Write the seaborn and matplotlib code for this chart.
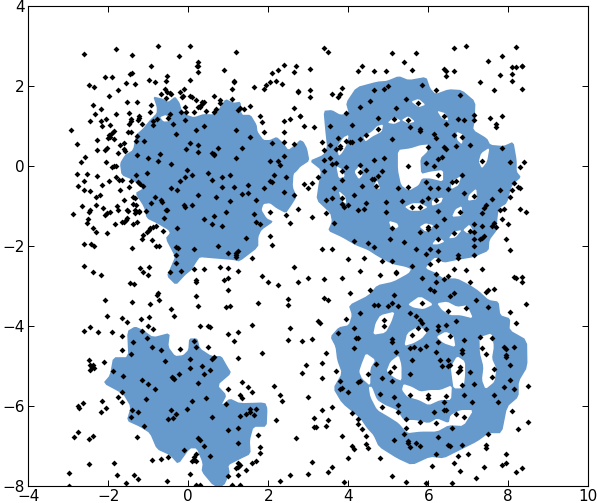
# Scattered samples over the filled class regions
import matplotlib
matplotlib.use('Agg')
import matplotlib.pyplot as plt
import pandas as pd
import seaborn as sns

points_upper_left = [
    (-2.93,0.89),(-2.78,0.54),(-2.60,2.79),(-1.80,2.92),(-1.40,2.77),(-0.75,2.99),(0.03,2.99),(-0.23,2.74),(1.20,2.84),
    (0.25,2.59),(0.21,2.49),(0.25,2.49),(0.23,2.35),(-0.93,2.49),(0.88,2.39),(-1.46,2.30),(-1.42,2.32),(-2.08,2.22),
    (-1.90,2.22),(-0.53,2.24),(-0.55,2.13),(-0.98,2.14),(-0.83,2.09),(0.03,2.14),(1.13,2.12),(1.15,2.09),(-1.55,2.07),
    (-1.33,2.04),(-2.48,2.02),(-2.35,1.97),(-1.75,1.89),(1.08,1.92),(1.65,1.97),(1.88,1.92),(1.93,2.02),(2.03,2.09),
    (2.18,2.12),(2.35,2.04),(2.08,2.32),(2.23,2.39),(2.38,2.52),(2.63,2.34),(2.68,2.49),(2.73,1.84),(2.75,1.87),
    (-0.58,1.92),(-0.68,1.79),(-0.53,1.84),(-0.45,1.82),(-0.43,1.79),(-0.20,1.84),(-0.10,1.92),(-0.15,1.72),(-0.13,1.74),
    (-1.98,1.74),(-0.55,1.69),(0.05,1.74),(0.08,1.72),(0.18,1.64),(0.35,1.59),(0.40,1.59),(0.33,1.54),(0.23,1.47),
    (0.28,1.47),(0.30,1.49),(0.65,1.74),(0.78,1.64),(0.78,1.57),(1.10,1.67),(-1.53,1.59),(-1.28,1.59),(-2.38,1.52),
    (-2.18,1.42),(-0.93,1.52),(-0.08,1.47),(0.43,1.37),(0.13,1.34),(-0.05,1.34),(-0.18,1.34),(0.70,1.42),(0.63,1.34),
    (1.23,1.39),(1.30,1.44),(1.40,1.42),(1.53,1.49),(-2.33,1.29),(-1.80,1.29),(-1.48,1.32),(-0.97,1.34),(-1.23,1.24),
    (-1.23,1.19),(-1.25,1.14),(-2.05,1.17),(-2.18,1.12),(-2.45,1.12),(-2.15,0.99),(-1.43,1.17),(-1.43,1.12),(-1.48,1.04),
    (-1.15,1.04),(-1.95,1.02),(-0.78,1.17),(-0.88,1.12),(-0.88,1.02),(-0.47,1.29),(-0.50,1.19),(-0.38,1.04),(-0.08,1.14),
    (0.40,0.99),(1.78,1.24),(1.85,1.09),(1.88,0.84),(2.55,1.17),(2.40,1.12),(2.63,1.44),(2.78,1.24),(2.38,0.84),
    (2.40,0.59),(2.65,0.54),(0.20,0.89),(1.18,0.89),(-0.30,0.79),(1.53,0.72),(2.08,0.57),(-1.85,0.87),(-1.90,0.82),
    (-1.98,0.77),(-1.95,0.72),(-2.00,0.69),(-1.85,0.67),(-1.50,0.84),(-1.43,0.84),(-1.28,0.74),(-1.30,0.62),(-1.10,0.62),
    (-2.28,0.64),(-2.28,0.39),(-1.60,0.57),(-1.70,0.52),(-1.60,0.42),(-1.58,0.37),(-1.75,0.32),(-2.03,0.44),(-2.08,0.39),
    (0.05,0.57),(0.23,0.52),(-0.05,0.42),(0.23,0.34),(0.73,0.44),(0.60,0.32),(0.63,0.29),(0.65,0.27),(1.33,0.44),
    (1.20,0.19),(-1.28,0.27),(-1.00,0.19),(-0.70,0.29),(-0.75,0.12),(-2.58,0.22),(-2.68,0.09),(-2.05,0.09),(-1.90,-0.03),
    (-1.85,-0.01),(-1.80,-0.01),(-0.43,0.04),(2.03,0.12),(2.25,0.12),(2.28,0.02),(2.40,0.24),(-2.78,-0.21),(-2.53,-0.21),
    (-2.28,-0.26),(-1.80,-0.28),(-1.73,-0.36),(-1.65,-0.36),(-2.75,-0.51),(-2.60,-0.38),(-1.98,-0.38),(-2.15,-0.48),
    (-2.60,-0.61),(-2.45,-0.63),(-1.70,-0.61),(-1.30,-0.23),(-1.03,-0.18),(-1.43,-0.38),(-1.25,-0.41),(-1.20,-0.46),
    (-1.13,-0.51),(-1.48,-0.53),(-0.03,-0.11),(0.08,-0.23),(-0.08,-0.28),(-0.20,-0.38),(0.48,-0.18),(0.60,-0.36),
    (0.83,-0.28),(1.05,-0.23),(2.03,-0.38),(2.08,-0.41),(2.13,-0.23),(2.45,-0.28),(-0.43,-0.56),(-0.28,-0.61),(0.85,-0.53),
    (1.13,-0.53),(1.50,-0.48),(1.88,-0.56),(-2.20,-0.73),(-2.30,-0.78),(-1.38,-0.78),(-1.33,-0.81),(-0.83,-0.78),
    (0.23,-0.73),(0.70,-0.78),(1.33,-0.71),(1.48,-0.68),(2.38,-0.66),(2.65,-0.73),(-1.60,-0.86),(-2.30,-0.98),(-2.65,-1.01),
    (-1.38,-0.96),(-1.30,-0.98),(-0.93,-0.93),(-0.68,-0.86),(-0.65,-0.91),(1.05,-0.88),(1.68,-0.86),(-0.10,-0.98),
    (-0.08,-1.03),(0.08,-0.98),(-2.13,-1.06),(-1.78,-1.01),(-1.76,-1.11),(-1.53,-1.11),(-1.50,-1.13),(-1.33,-1.11),
    (-1.23,-1.13),(-1.05,-1.13),(-0.55,-1.11),(-0.53,-1.11),(-2.45,-1.11),(-2.48,-1.16),(-2.88,-1.21),(-1.95,-1.16),
    (-2.03,-1.18),(-2.08,-1.23),(-1.33,-1.18),(-1.23,-1.16),(0.93,-1.16),(0.63,-1.26),(0.40,-1.33),(-0.60,-1.31),
    (1.63,-1.21),(2.03,-1.16),(2.45,-1.23),(2.73,-1.08),(-2.50,-1.33),(-2.53,-1.43),(-1.83,-1.46),(-1.53,-1.31),
    (-1.55,-1.36),(-1.60,-1.41),(-1.65,-1.41),(-1.28,-1.41),(-1.38,-1.46),(0.60,-1.46),(0.83,-1.51),(1.68,-1.41),
    (1.78,-1.46),(2.53,-1.43),(-2.38,-1.56),(-2.30,-1.66),(-2.03,-1.68),(-0.80,-1.51),(-0.88,-1.53),(-0.95,-1.56),
    (-0.98,-1.61),(-1.03,-1.66),(-0.63,-1.63),(-0.28,-1.56),(-1.13,-1.73),(-1.15,-1.83),(-0.90,-1.86),(1.43,-1.81),
    (2.03,-1.76),(-2.60,-1.96),(-2.43,-1.96),(-2.35,-2.01),(-1.40,-2.06),(-0.80,-2.01),(-0.73,-2.01),(-0.30,-2.03),
    (-0.25,-2.06),(0.73,-2.01),(0.13,-2.08),(2.10,-1.98),
]

points_upper_right = [
    (3.38,2.94),(3.48,2.84),(5.10,2.82),(5.68,2.82),(5.38,2.59),(6.63,2.94),(6.93,2.99),(8.20,2.97),(7.83,2.74),(7.50,2.62),
    (8.10,2.47),(8.20,2.47),(8.33,2.49),(8.35,2.49),(8.08,2.29),(7.80,2.27),(8.10,2.12),(8.33,1.92),(7.65,1.89),(7.28,2.09),
    (3.03,2.42),(4.35,2.49),(4.25,2.37),(4.65,2.37),(4.93,2.37),(5.60,2.39),(6.40,2.42),(6.43,2.37),(6.45,2.24),(6.63,2.37),
    (5.85,2.02),(4.98,1.99),(4.90,1.92),(4.65,1.89),(6.18,1.89),(6.80,1.77),(3.83,1.94),(3.78,1.79),(3.73,1.72),(3.60,1.79),
    (3.05,1.89),(3.03,1.72),(5.43,1.67),(4.53,1.62),(4.30,1.47),(5.20,1.44),(5.75,1.57),(3.95,1.32),(2.80,1.24),(2.88,0.99),
    (3.13,0.97),(3.53,0.99),(4.08,1.02),(4.75,1.19),(5.15,1.17),(5.50,1.14),(6.38,1.24),(6.75,1.17),(6.90,1.14),(7.13,1.27),
    (7.13,1.14),(7.53,1.19),(7.85,1.24),(6.43,1.04),(5.55,0.97),(5.78,0.92),(5.78,0.87),(7.68,1.04),(7.68,0.97),(4.75,0.92),
    (4.45,0.77),(4.30,0.67),(5.10,0.67),(6.15,0.79),(6.18,0.69),(6.65,0.77),(6.83,0.72),(3.75,0.69),(3.35,0.59),(3.93,0.62),
    (4.03,0.59),(4.08,0.59),(3.55,0.52),(3.80,0.49),(3.78,0.44),(3.68,0.42),(3.40,0.39),(7.03,0.52),(6.68,0.49),(5.98,0.47),
    (6.40,0.47),(6.43,0.42),(7.83,0.44),(3.55,0.19),(3.40,0.14),(4.90,0.19),(4.65,0.14),(6.35,0.22),(6.23,0.17),(7.35,0.12),
    (8.05,0.09),(8.38,0.09),(8.30,-0.03),(3.60,0.04),(3.68,0.07),(3.95,-0.03),(4.28,0.02),(4.43,-0.11),(3.38,-0.13),(3.83,-0.13),
    (4.30,-0.16),(4.83,-0.13),(5.50,-0.01),(5.95,0.07),(6.13,-0.01),(6.23,-0.23),(3.23,-0.28),(4.73,-0.26),(3.83,-0.36),
    (4.58,-0.33),(4.65,-0.33),(6.85,-0.23),(2.90,-0.46),(3.08,-0.43),(3.00,-0.56),(4.33,-0.51),(3.63,-0.56),(4.68,-0.51),
    (5.25,-0.56),(5.50,-0.53),(5.93,-0.41),(6.05,-0.56),(6.23,-0.56),(6.60,-0.41),(6.68,-0.38),(6.50,-0.58),(8.15,-0.43),
    (8.23,-0.53),(8.30,-0.56),(7.78,-0.61),(8.08,-0.61),(4.15,-0.73),(6.88,-0.68),(7.13,-0.76),(8.03,-0.78),(3.45,-0.86),
    (3.58,-0.81),(3.83,-0.81),(6.00,-0.81),(6.20,-0.86),(5.85,-0.88),(5.35,-0.88),(7.60,-0.83),(3.85,-0.96),(3.88,-1.03),
    (4.00,-0.98),(4.43,-0.93),(4.95,-0.91),(5.58,-1.03),(5.80,-1.03),(7.43,-0.98),(7.38,-1.06),(4.23,-1.11),(4.38,-1.08),
    (4.95,-1.16),(6.25,-1.13),(6.78,-1.16),(7.35,-1.18),(7.80,-1.11),(7.88,-1.08),(8.28,-1.08),(8.43,-1.16),(3.45,-1.18),
    (3.10,-1.28),(6.40,-1.33),(7.85,-1.33),(7.98,-1.46),(3.63,-1.43),(5.10,-1.56),(5.98,-1.53),(5.98,-1.58),(6.20,-1.51),
    (5.78,-1.66),(7.13,-1.46),(7.33,-1.51),(7.60,-1.51),(7.65,-1.43),(7.68,-1.53),(6.65,-1.68),(7.05,-1.63),(7.13,-1.66),
    (5.03,-1.83),(4.13,-1.88),(4.50,-1.93),(5.40,-1.91),(6.25,-1.83),(7.13,-1.83),(7.38,-1.76),(7.35,-1.81),(7.30,-1.83),
    (7.93,-1.83),(4.65,-2.03),(5.68,-2.08),(6.05,-2.08),(7.13,-2.01),(3.33,-2.08),(3.58,-2.08),(8.03,-2.11),
]

points_lower_left = [
    (-0.30,-2.23),(-0.30,-2.43),(0.98,-2.18),(1.23,-2.13),(1.20,-2.18),(1.18,-2.23),(1.18,-2.28),(1.58,-2.31),(-2.60,-2.51),
    (-2.38,-2.66),(-2.18,-2.73),(-1.20,-2.56),(-0.98,-2.53),(-1.13,-2.66),(-1.00,-2.73),(-0.45,-2.66),(-0.18,-2.63),(0.15,-2.58),
    (0.38,-2.58),(0.78,-2.53),(0.98,-2.56),(1.23,-2.63),(2.65,-2.53),(2.73,-2.91),(1.85,-2.76),(1.98,-2.91),(2.23,-2.98),
    (0.18,-2.86),(0.20,-2.91),(0.90,-2.86),(1.00,-2.81),(-1.45,-2.93),(-1.35,-2.96),(0.98,-3.11),(-0.75,-3.18),(-0.78,-3.23),
    (0.20,-3.26),(-2.08,-3.36),(-1.40,-3.41),(-0.95,-3.46),(-0.73,-3.36),(2.50,-3.33),(2.50,-3.48),(1.75,-3.43),(0.25,-3.51),
    (0.95,-3.53),(1.03,-3.51),(-0.43,-3.58),(-0.35,-3.76),(-2.03,-3.76),(-1.65,-3.81),(-1.53,-3.91),(-1.18,-3.83),(-0.98,-3.78),
    (-1.00,-4.01),(-0.88,-4.08),(-1.15,-4.13),(-2.45,-4.03),(-2.60,-4.13),(-2.25,-4.16),(-1.90,-4.16),(0.28,-4.01),(0.48,-4.01),
    (0.53,-4.03),(1.58,-3.98),(1.25,-4.16),(1.00,-4.21),(2.53,-4.06),(-1.65,-4.26),(-1.03,-4.31),(-1.38,-4.41),(0.13,-4.38),
    (1.15,-4.38),(2.48,-4.36),(-0.90,-4.53),(-0.68,-4.61),(-1.65,-4.61),(-0.20,-4.58),(0.20,-4.53),(0.48,-4.53),(-1.43,-4.71),
    (1.83,-4.68),(0.63,-4.78),(0.60,-4.83),(0.05,-4.83),(1.25,-4.81),(-0.58,-4.88),(-2.48,-4.86),(-2.10,-4.91),(-2.45,-4.98),
    (-2.38,-4.98),(-2.40,-5.03),(-2.35,-5.06),(-2.45,-5.11),(0.35,-5.01),(0.03,-5.06),(0.55,-5.11),(-1.88,-5.13),(0.40,-5.21),
    (-0.23,-5.21),(-1.63,-5.26),(-0.40,-5.28),(-0.38,-5.31),(-0.35,-5.33),(-1.15,-5.36),(-1.00,-5.46),(-0.83,-5.58),(0.23,-5.43),
    (1.35,-5.41),(1.48,-5.53),(1.58,-5.66),(2.13,-5.51),(0.98,-5.58),(-1.65,-5.66),(1.30,-5.73),(1.33,-5.81),(2.30,-5.73),
    (2.33,-5.88),(-1.75,-5.78),(-1.05,-5.83),(0.43,-5.81),(0.08,-5.88),(-2.15,-5.88),(-1.65,-5.91),(-2.63,-5.93),(-2.75,-6.01),
    (-2.73,-6.06),(-2.05,-6.06),(0.93,-5.96),(-1.40,-6.11),(-1.25,-6.16),(-2.18,-6.16),(-0.43,-6.11),(-0.03,-6.08),(-0.30,-6.21),
    (1.70,-6.08),(1.53,-6.08),(1.55,-6.16),(1.45,-6.21),(1.65,-6.23),(1.28,-6.26),(0.60,-6.28),(-1.43,-6.28),(-0.50,-6.33),
    (-0.38,-6.31),(2.20,-6.36),(-1.10,-6.51),(0.98,-6.61),(1.25,-6.56),(-2.75,-6.66),(1.73,-6.73),(-2.85,-6.78),(-2.48,-6.83),
    (-2.38,-6.76),(-1.28,-6.78),(0.25,-6.81),(0.28,-6.86),(2.68,-6.81),(1.23,-6.93),(0.40,-7.01),(1.78,-7.03),(-0.10,-7.11),
    (1.80,-7.18),(0.20,-7.21),(0.55,-7.26),(-0.50,-7.28),(-0.68,-7.33),(-0.90,-7.36),(0.15,-7.28),(0.13,-7.36),(0.08,-7.38),
    (0.18,-7.38),(1.68,-7.38),(1.60,-7.43),(1.25,-7.43),(-1.85,-7.43),(-2.48,-7.46),(1.28,-7.48),(1.25,-7.53),(1.18,-7.56),
    (1.45,-7.61),(-2.98,-7.68),(0.03,-7.71),(-1.78,-7.73),(-1.35,-7.73),(1.00,-7.76),(1.25,-7.73),(2.53,-7.73),(-1.25,-7.83),
    (-0.53,-7.88),(2.30,-7.88),(-1.55,-7.93),(-2.98,-8.01),(0.20,-7.98),(0.30,-7.98),(1.10,-7.98),(1.28,-7.98),
]

points_lower_right = [
    (4.00,-2.33),(4.38,-2.31),(4.85,-2.38),(5.10,-2.38),(5.58,-2.51),(5.93,-2.21),(6.23,-2.13),(6.23,-2.36),(6.73,-2.23),(6.73,-2.31),
    (7.15,-2.23),(6.05,-2.46),(4.30,-2.63),(5.18,-2.66),(5.20,-2.68),(4.78,-2.73),(3.00,-2.81),(3.40,-2.83),(3.85,-2.81),(6.65,-2.58),
    (6.93,-2.61),(7.35,-2.58),(6.18,-2.71),(6.48,-2.76),(5.83,-2.81),(6.40,-2.83),(8.13,-2.78),(8.18,-2.81),(8.33,-2.78),(8.33,-2.91),
    (6.18,-2.91),(7.05,-2.91),(6.05,-3.08),(6.15,-3.13),(4.53,-3.11),(4.03,-3.18),(7.65,-3.08),(7.50,-3.11),(7.45,-3.16),(5.13,-3.23),
    (6.65,-3.18),(6.55,-3.26),(3.38,-3.31),(3.50,-3.36),(7.18,-3.36),(5.83,-3.43),(5.08,-3.43),(4.65,-3.48),(4.73,-3.48),(4.98,-3.51),
    (5.23,-3.51),(8.43,-3.46),(7.48,-3.53),(6.95,-3.56),(6.50,-3.63),(4.28,-3.68),(5.55,-3.68),(8.03,-3.66),(5.70,-3.76),(5.78,-3.86),
    (5.85,-3.93),(3.95,-3.83),(3.25,-3.88),(3.28,-3.93),(4.88,-3.86),(4.90,-4.01),(6.68,-3.88),(8.18,-3.93),(5.73,-4.06),(5.93,-4.08),
    (6.25,-4.01),(6.43,-3.98),(6.23,-4.11),(4.13,-4.06),(3.73,-4.18),(5.58,-4.23),(6.53,-4.26),(7.28,-4.28),(7.60,-4.31),(4.20,-4.31),
    (4.23,-4.31),(2.83,-4.38),(3.10,-4.33),(5.10,-4.33),(5.10,-4.41),(6.25,-4.41),(6.88,-4.36),(4.15,-4.56),(5.53,-4.56),(5.65,-4.53),
    (5.78,-4.58),(5.93,-4.51),(7.33,-4.56),(6.83,-4.61),(7.88,-4.53),(7.95,-4.58),(8.13,-4.53),(5.18,-4.66),(6.18,-4.66),(6.85,-4.68),
    (7.45,-4.71),(7.95,-4.73),(7.93,-4.78),(3.43,-4.68),(5.60,-4.86),(6.30,-4.86),(6.50,-4.86),(3.33,-4.93),(2.95,-4.98),(4.68,-4.96),
    (8.05,-4.98),(6.33,-5.01),(6.48,-5.01),(6.53,-4.98),(6.80,-5.03),(5.13,-5.03),(7.63,-5.08),(6.78,-5.11),(6.73,-5.16),(3.70,-5.13),
    (2.83,-5.18),(5.05,-5.16),(7.05,-5.16),(5.53,-5.21),(4.48,-5.21),(3.33,-5.31),(7.58,-5.28),(4.83,-5.31),(3.78,-5.38),(4.25,-5.41),
    (4.30,-5.38),(5.08,-5.38),(8.05,-5.36),(7.13,-5.46),(6.85,-5.48),(8.50,-5.51),(7.88,-5.53),(8.13,-5.58),(3.85,-5.56),(3.80,-5.58),
    (3.98,-5.66),(4.78,-5.71),(5.55,-5.73),(6.00,-5.73),(6.00,-5.81),(6.43,-5.76),(5.13,-5.78),(6.88,-5.73),(7.65,-5.73),(3.00,-5.78),
    (6.38,-5.91),(7.10,-5.91),(7.75,-5.91),(5.23,-5.98),(4.85,-6.03),(3.58,-6.03),(3.33,-6.11),(4.08,-6.18),(8.10,-6.13),(6.13,-6.16),
    (6.40,-6.11),(6.43,-6.11),(5.25,-6.16),(6.70,-6.21),(6.88,-6.28),(3.15,-6.31),(4.23,-6.33),(3.50,-6.36),(4.23,-6.46),(5.43,-6.33),
    (5.78,-6.41),(6.20,-6.43),(8.48,-6.41),(3.45,-6.51),(3.15,-6.53),(3.18,-6.53),(4.35,-6.58),(5.43,-6.56),(6.58,-6.56),(8.25,-6.58),
    (5.38,-6.71),(7.50,-6.71),(4.45,-6.76),(3.85,-6.76),(6.23,-6.78),(5.13,-6.86),(5.48,-6.93),(5.70,-6.93),(5.50,-6.88),(4.45,-6.96),
    (6.48,-6.98),(6.55,-7.01),(6.85,-6.98),(7.43,-6.98),(4.08,-7.01),(4.13,-7.08),(4.48,-7.06),(5.55,-7.03),(5.80,-7.01),(7.43,-7.06),
    (6.18,-7.21),(7.00,-7.21),(6.73,-7.26),(7.93,-7.21),(3.98,-7.31),(4.80,-7.31),(3.10,-7.41),(6.65,-7.43),(7.95,-7.43),(7.83,-7.48),
    (6.08,-7.51),(7.38,-7.53),(8.35,-7.56),(3.58,-7.53),(3.48,-7.66),(8.18,-7.66),(6.78,-7.63),(2.98,-7.71),(5.08,-7.76),(7.20,-7.81),
    (3.90,-7.91),(5.45,-7.91),(5.93,-7.93),(6.60,-7.93),
]

# filled regions, outline then the gaps inside them
region_upper_left = [
    (-0.88,1.74),(-0.63,1.68),(-0.50,1.60),(-0.33,1.74),(-0.21,1.57),(-0.17,1.40),(-0.04,1.28),(0.14,1.22),(0.38,1.30),(0.63,1.29),
    (0.75,1.40),(0.93,1.68),(1.13,1.58),(1.31,1.61),(1.33,1.28),(1.56,1.28),(1.71,1.03),(1.73,0.86),(1.88,0.65),(2.04,0.65),
    (2.21,0.73),(2.38,0.57),(2.50,0.40),(2.67,0.53),(2.79,0.65),(2.88,0.61),(2.97,0.44),(3.03,0.13),(2.80,-0.02),(2.72,-0.12),
    (2.63,-0.20),(2.61,-0.52),(2.71,-0.77),(2.58,-0.98),(2.44,-1.18),(2.21,-1.06),(2.04,-0.93),(1.88,-0.95),(1.83,-1.10),(1.96,-1.31),
    (2.13,-1.39),(1.83,-1.60),(1.75,-1.77),(1.75,-2.03),(1.28,-2.39),(1.13,-2.35),(0.63,-2.31),(0.29,-2.28),(0.21,-2.39),(0.08,-2.60),
    (-0.08,-2.73),(-0.31,-2.98),(-0.54,-2.75),(-0.42,-2.48),(-0.33,-2.27),(-0.57,-1.81),(-0.46,-1.68),(-0.50,-1.60),(-0.79,-1.43),
    (-1.04,-1.31),(-1.11,-1.02),(-1.33,-0.68),(-1.13,-0.56),(-1.38,-0.35),(-1.67,-0.23),(-1.71,0.07),(-1.58,0.28),(-1.38,0.40),
    (-1.31,0.78),(-1.13,0.94),(-0.96,1.15),(-0.79,1.32),(-0.79,1.48),
]
region_lower_left = [
    (-1.53,-4.13),(-1.33,-4.01),(-1.13,-4.10),(-0.88,-4.28),(-0.46,-4.17),(-0.50,-4.52),(-0.33,-4.75),(-0.13,-4.73),(0.00,-4.60),
    (0.02,-4.31),(0.23,-4.31),(0.29,-4.56),(0.58,-4.75),(0.83,-4.75),(0.96,-4.98),(1.08,-5.18),(0.73,-5.48),(0.96,-5.73),(0.83,-5.98),
    (1.04,-5.81),(1.29,-5.93),(1.92,-5.91),(1.98,-6.06),(1.96,-6.52),(1.63,-6.52),(1.54,-6.85),(1.56,-7.20),(1.25,-7.35),(1.00,-7.48),
    (1.04,-7.68),(0.89,-8.00),(0.63,-8.00),(0.33,-7.64),(0.36,-7.43),(0.21,-7.06),(0.04,-7.06),(-0.25,-7.46),(-0.46,-7.23),(-0.79,-7.08),
    (-0.96,-6.68),(-1.21,-6.52),(-1.54,-6.37),(-1.44,-6.02),(-1.63,-5.70),(-2.13,-5.43),(-1.96,-5.23),(-1.88,-4.78),(-1.50,-4.78),
]
region_right = [
    (3.03,0.13),(3.38,0.28),(3.47,0.48),(3.43,0.82),(3.38,1.38),(3.59,1.40),(3.80,1.28),(4.01,1.32),(3.94,1.58),(4.20,1.97),(4.72,2.11),
    (4.97,2.13),(5.26,2.25),(5.51,2.15),(5.95,2.23),(6.05,1.94),(6.18,1.80),(6.51,1.92),(6.84,1.90),(7.18,1.61),(7.16,1.15),(7.12,0.90),
    (7.47,0.69),(7.55,0.53),(7.88,0.50),(8.13,0.61),(8.21,0.15),(8.21,-0.14),(8.32,-0.28),(8.09,-0.48),(7.97,-0.93),(7.76,-1.06),
    (7.72,-1.39),(7.72,-1.60),(7.53,-1.85),(7.51,-2.12),(7.13,-2.28),(6.72,-2.35),(6.38,-2.42),(6.18,-2.28),(6.05,-2.39),(5.93,-2.56),
    (6.18,-2.67),(6.38,-2.81),(6.72,-2.81),(7.05,-2.98),(7.26,-3.12),(7.51,-3.35),(7.76,-3.39),(7.80,-3.73),(8.05,-3.81),(8.03,-4.10),
    (8.47,-4.35),(8.48,-5.02),(8.26,-5.39),(8.26,-5.77),(7.97,-6.02),(7.84,-6.68),(7.51,-6.68),(7.22,-6.89),(6.80,-7.10),(6.38,-7.31),
    (6.05,-7.27),(5.59,-7.48),(5.22,-7.31),(4.76,-7.02),(4.63,-6.73),(4.47,-6.56),(4.30,-6.31),(3.84,-5.93),(3.62,-5.56),(3.84,-5.18),
    (3.72,-4.85),(3.68,-4.52),(3.55,-4.27),(3.76,-4.03),(4.01,-3.98),(4.09,-3.73),(4.01,-3.48),(4.51,-3.23),(4.72,-2.98),(5.13,-2.89),
    (5.51,-2.68),(5.57,-2.58),(5.43,-2.52),(5.09,-2.45),(4.72,-2.25),(4.49,-2.10),(4.18,-1.98),(3.84,-1.78),(3.49,-1.62),(3.59,-1.39),
    (3.55,-1.18),(3.20,-0.85),(3.26,-0.43),(3.32,-0.10),
]
gaps = [
    [(-0.71,1.22),(-0.55,1.28),(-0.47,1.12),(-0.62,1.11)],
    [(5.57,1.61),(5.76,1.68),(5.93,1.53),(5.76,1.47)],
    [(4.98,1.08),(5.15,1.23),(5.32,1.13),(5.15,1.05)],
    [(5.33,1.15),(5.50,1.25),(5.67,1.11),(5.50,1.06)],
    [(6.22,1.38),(6.43,1.32),(6.51,1.13),(6.34,1.19)],
    [(4.37,0.73),(4.59,0.86),(4.72,1.00),(4.87,1.04),(4.84,0.86),(4.59,0.73),(4.43,0.61)],
    [(4.01,0.78),(3.88,0.72),(3.72,0.48),(3.76,0.25),(3.84,0.32),(3.97,0.55)],
    [(6.70,0.86),(6.88,0.78),(6.84,0.54),(6.72,0.65)],
    [(5.24,0.40),(5.55,0.44),(5.80,0.52),(6.01,0.54),(5.98,0.36),(5.80,0.19),(5.82,-0.20),(6.05,-0.14),(6.37,-0.10),
     (6.37,-0.39),(6.05,-0.31),(5.84,-0.31),(5.76,-0.48),(5.51,-0.62),(5.32,-0.48),(5.24,-0.10)],
    [(7.53,0.46),(7.32,0.32),(7.26,0.11),(7.34,-0.06),(7.47,0.11)],
    [(3.70,0.00),(3.88,-0.10),(3.91,-0.27),(3.76,-0.31)],
    [(4.30,0.03),(4.15,-0.14),(4.26,-0.33),(4.36,-0.23)],
    [(4.72,-0.35),(4.62,-0.53),(4.80,-0.58)],
    [(6.82,-0.25),(6.57,-0.39),(6.57,-0.58),(6.76,-0.48)],
    [(7.20,-0.56),(7.01,-0.73),(6.99,-0.87),(7.22,-0.83)],
    [(3.76,-0.62),(3.93,-0.77),(3.95,-0.95),(3.82,-0.85)],
    [(5.41,-1.02),(5.60,-0.93),(5.80,-0.93),(5.99,-1.03),(5.80,-1.12),(5.55,-1.12)],
    [(6.09,-0.85),(6.37,-0.78),(6.32,-0.92),(6.09,-1.00)],
    [(6.84,-1.00),(6.68,-1.08),(6.59,-1.27),(6.84,-1.25)],
    [(5.01,-1.37),(5.22,-1.43),(5.26,-1.52),(5.09,-1.62)],
    [(5.78,-1.52),(5.93,-1.43),(6.13,-1.48),(6.05,-1.60),(5.93,-1.64)],
    [(6.84,-1.60),(6.63,-1.64),(6.51,-1.81),(6.68,-1.79)],
    [(7.03,-1.46),(6.87,-1.60),(6.97,-1.68),(7.13,-1.64)],
    [(6.09,-1.96),(6.25,-1.77),(6.41,-1.89),(6.25,-1.96)],
    [(5.49,-3.46),(5.79,-3.25),(6.13,-3.46),(5.88,-3.58),(5.63,-3.54)],
    [(6.22,-3.43),(6.47,-3.39),(6.72,-3.52),(6.97,-3.48),(7.12,-3.81),(6.80,-3.73),(6.55,-3.73),(6.34,-3.60)],
    [(5.16,-3.64),(4.80,-3.73),(4.68,-3.93),(4.62,-4.22),(4.93,-4.17),(5.08,-3.89)],
    [(5.98,-4.14),(5.76,-4.00),(5.47,-4.18),(5.40,-4.50),(5.63,-4.43),(5.84,-4.31)],
    [(6.20,-4.27),(6.43,-4.14),(6.63,-4.23),(6.68,-4.53),(6.38,-4.43)],
    [(7.28,-4.28),(7.59,-4.18),(7.64,-4.52),(7.59,-4.81),(7.70,-5.06),(7.66,-5.39),(7.43,-5.58),(7.34,-5.35),(7.38,-5.02),(7.29,-4.68)],
    [(6.72,-4.75),(6.92,-4.89),(6.92,-5.23),(6.88,-5.56),(6.63,-5.56),(6.59,-5.27),(6.56,-5.02)],
    [(5.26,-4.73),(5.05,-4.89),(4.95,-5.14),(5.18,-5.31),(5.33,-5.37),(5.33,-4.98)],
    [(4.44,-4.68),(4.68,-4.85),(4.55,-5.06),(4.55,-5.50),(4.34,-5.31),(4.27,-5.14),(4.34,-4.93)],
    [(5.38,-5.45),(5.59,-5.52),(5.80,-5.64),(6.05,-5.60),(6.30,-5.60),(6.59,-5.48),(6.57,-5.85),(6.30,-5.85),(6.01,-5.98),
     (5.76,-5.85),(5.47,-5.77),(5.34,-5.60)],
    [(4.51,-5.52),(4.55,-5.77),(4.72,-6.10),(5.01,-6.27),(5.26,-6.43),(5.47,-6.68),(5.80,-6.64),(6.22,-6.64),(6.51,-6.48),(6.88,-6.50),
     (7.13,-6.10),(6.80,-6.10),(6.55,-6.23),(6.51,-6.43),(6.22,-6.31),(6.01,-6.43),(5.68,-6.35),(5.38,-6.35),(5.22,-6.10),(4.93,-5.98),
     (4.72,-5.85),(4.59,-5.52)],
]

x_ticks = [-4, -2, 0, 2, 4, 6, 8, 10]
y_ticks = [-8, -6, -4, -2, 0, 2, 4]


def rounded(outline, cut=0.15):
    # one pass of corner cutting, the regions have soft edges
    out = []
    for (x0, y0), (x1, y1) in zip(outline, outline[1:] + outline[:1]):
        out.append(((1 - cut) * x0 + cut * x1, (1 - cut) * y0 + cut * y1))
        out.append((cut * x0 + (1 - cut) * x1, cut * y0 + (1 - cut) * y1))
    return out


sns.set_style('white', {'xtick.direction': 'in', 'ytick.direction': 'in',
                        'xtick.top': True, 'ytick.right': True,
                        'xtick.bottom': True, 'ytick.left': True,
                        'axes.edgecolor': 'black'})
plt.rcParams['font.family'] = ['DejaVu Sans']

df = pd.DataFrame(points_upper_left + points_upper_right + points_lower_left + points_lower_right,
                  columns=['x', 'y'])

fig = plt.figure(figsize=(5.97, 5.03), dpi=100)
ax = fig.add_axes([28.3 / 597, 1 - 486 / 503, 560 / 597, 480 / 503])

for region in [region_upper_left, region_lower_left, region_right]:
    ax.fill(*zip(*rounded(region)), color='#6699CC', lw=0, zorder=1)
for gap in gaps:
    ax.fill(*zip(*rounded(gap)), color='white', lw=0, zorder=2)

sns.scatterplot(data=df, x='x', y='y', ax=ax, color='black', marker='D', s=9,
                linewidth=0, zorder=3)

ax.set_xlim(-4, 10)
ax.set_ylim(-8, 4)
ax.set_xticks(x_ticks)
ax.set_yticks(y_ticks)
ax.set_xlabel('')
ax.set_ylabel('')
ax.tick_params(length=4, width=0.7, labelsize=11, pad=2.5, color='black', labelcolor='black')
for spine in ax.spines.values():
    spine.set_linewidth(0.8)
    spine.set_color('black')

fig.savefig('out.png', dpi=100)
plt.close(fig)
